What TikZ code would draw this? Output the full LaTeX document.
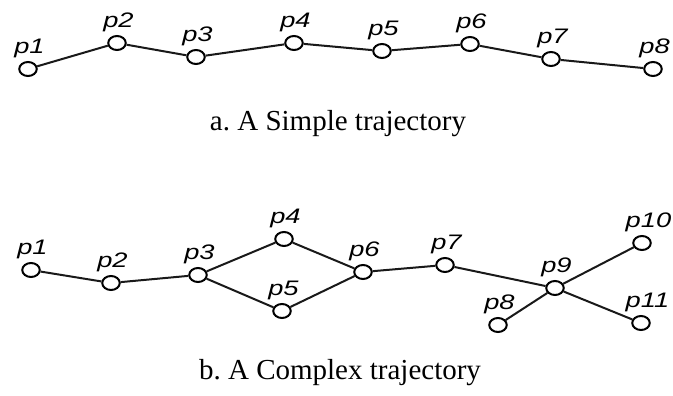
\documentclass[tikz,border=0pt]{standalone}
\usepackage{fontspec}
\setmainfont{Liberation Serif}
\newfontfamily\lblfont[FakeStretch=1.3]{Liberation Sans}
\usetikzlibrary{positioning,shapes.geometric}

\begin{document}
\begin{tikzpicture} [
    x=1pt, y=-1pt,
    pt/.style={ellipse, draw=black, line width=2pt, fill=white, minimum width=17.5pt, minimum height=14pt, inner sep=0pt},
    lbl/.style={inner sep=0pt, xshift=1.5pt, font=\lblfont\itshape\fontsize{21}{24}\selectfont},
    capt/.style={anchor=base, inner sep=0pt, font=\frenchspacing\fontsize{29}{34}\selectfont},
    ln/.style={line width=2pt, black!90}
  ]
  \useasboundingbox (0,0) rectangle (673,396);

  % a. simple trajectory
  \node[pt] (a1) at (28,69) {};
  \node[pt] (a2) at (117,43) {};
  \node[pt] (a3) at (196,57) {};
  \node[pt] (a4) at (294,43) {};
  \node[pt] (a5) at (382,51) {};
  \node[pt] (a6) at (470,44) {};
  \node[pt] (a7) at (551,59) {};
  \node[pt] (a8) at (653,69) {};
  \draw[ln] (a1) -- (a2) -- (a3) -- (a4) -- (a5) -- (a6) -- (a7) -- (a8);
  \node[lbl, above=3pt of a1] {p1};
  \node[lbl, above=3pt of a2] {p2};
  \node[lbl, above=3pt of a3] {p3};
  \node[lbl, above=3pt of a4] {p4};
  \node[lbl, above=3pt of a5] {p5};
  \node[lbl, above=3pt of a6] {p6};
  \node[lbl, above=3pt of a7] {p7};
  \node[lbl, above=3pt of a8] {p8};
  \node[capt] (capa) at (338,131) {a. A Simple trajectory};

  % b. complex trajectory
  \node[pt] (b1) at (31,270) {};
  \node[pt] (b2) at (111,283) {};
  \node[pt] (b3) at (198,275) {};
  \node[pt] (b4) at (284,239) {};
  \node[pt] (b5) at (282,311) {};
  \node[pt] (b6) at (363,272) {};
  \node[pt] (b7) at (445,265) {};
  \node[pt] (b8) at (498,325) {};
  \node[pt] (b9) at (555,288) {};
  \node[pt] (b10) at (642,243) {};
  \node[pt] (b11) at (641,323) {};
  \draw[ln] (b1) -- (b2) -- (b3) -- (b4) -- (b6) -- (b7) -- (b9) -- (b10);
  \draw[ln] (b3) -- (b5) -- (b6);
  \draw[ln] (b8) -- (b9) -- (b11);
  \node[lbl, above=3pt of b1] {p1};
  \node[lbl, above=3pt of b2] {p2};
  \node[lbl, above=3pt of b3] {p3};
  \node[lbl, above=3pt of b4] {p4};
  \node[lbl, above=3pt of b5] {p5};
  \node[lbl, above=3pt of b6] {p6};
  \node[lbl, above=3pt of b7] {p7};
  \node[lbl, above=3pt of b8] {p8};
  \node[lbl, above=3pt of b9] {p9};
  \node[lbl, above=3pt of b10, xshift=5pt] {p10};
  \node[lbl, above=3pt of b11, xshift=5pt] {p11};
  \node[capt] (capb) at (340,379) {b. A Complex trajectory};
\end{tikzpicture}
\end{document}
